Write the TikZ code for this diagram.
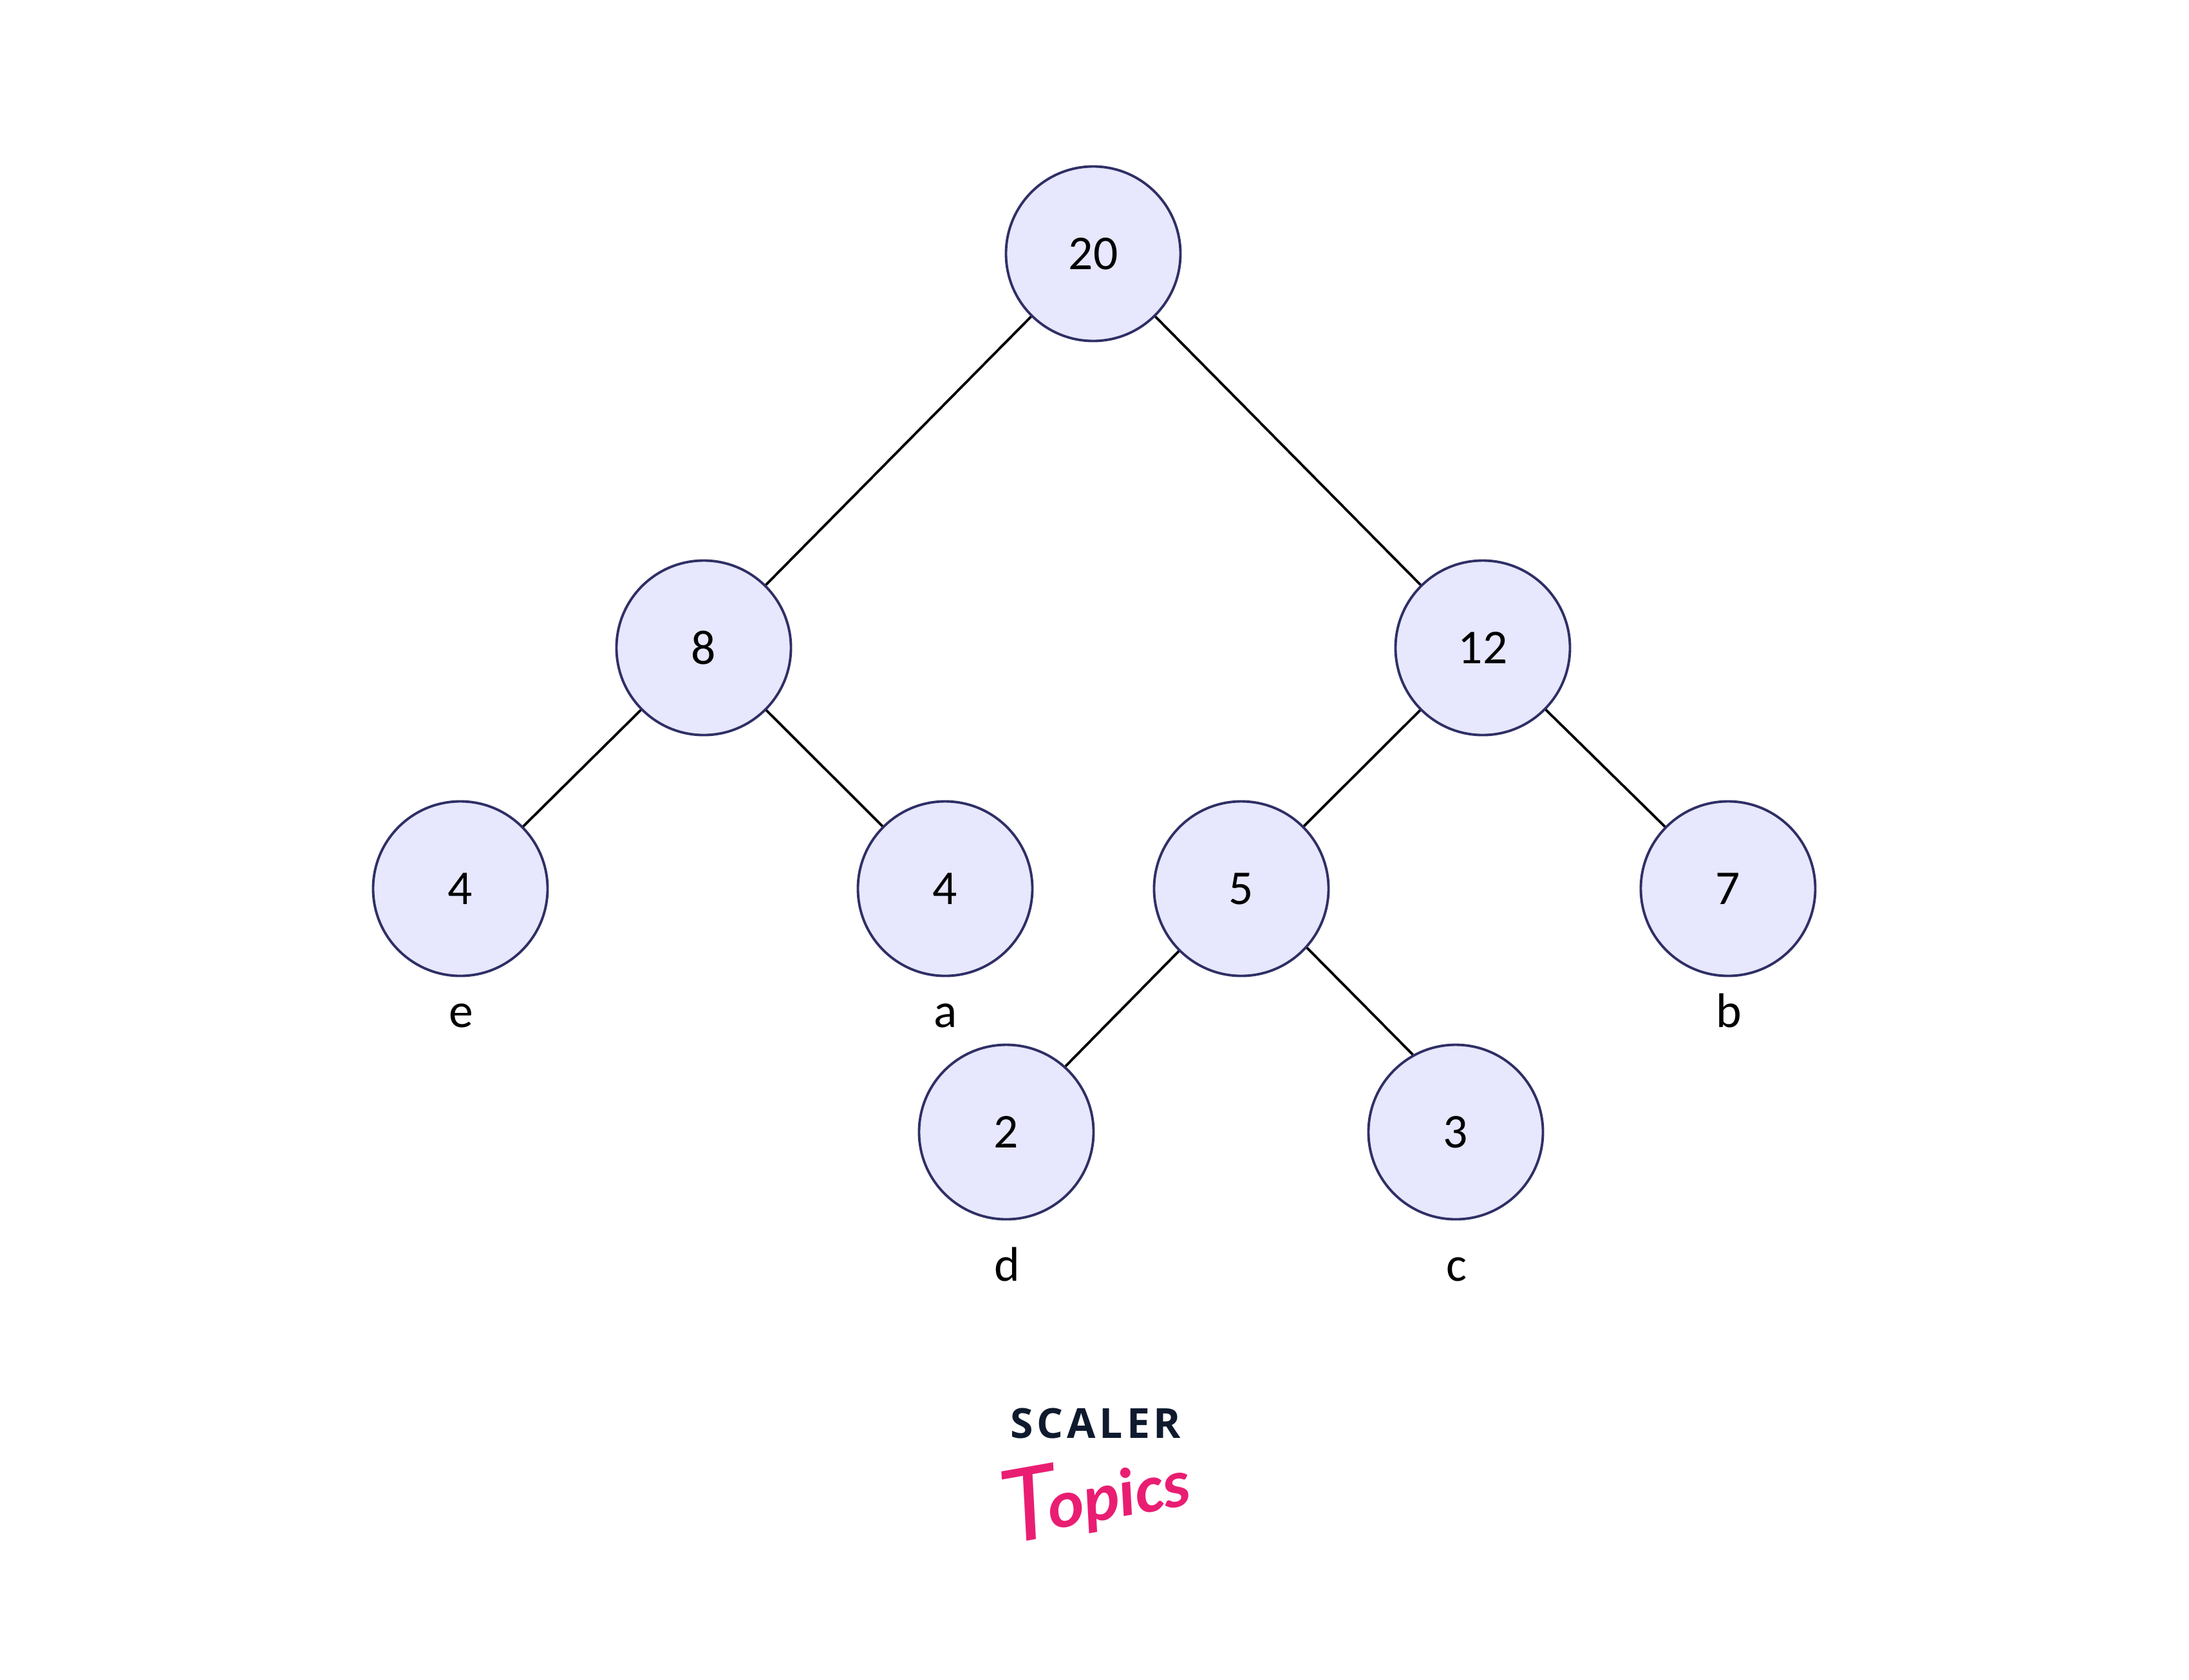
\documentclass[tikz,border=0pt]{standalone}
\usepackage{fontspec}
\setmainfont{Carlito}
\newfontfamily\logofont[LetterSpace=9]{Open Sans}
\usepackage{xcolor}
\usepackage{tikz}
\definecolor{nodefill}{HTML}{E7E7FD}
\definecolor{nodeline}{HTML}{2F2F66}
\definecolor{logodark}{HTML}{0F1A2E}
\definecolor{logopink}{HTML}{E91E72}

\begin{document}
\begin{tikzpicture}[
	font=\fontsize{21.5}{26}\selectfont
]
\tikzset{
    mycircle/.style = {circle, draw=nodeline, fill=nodefill, line width=1.1pt, minimum size=2.71cm, inner sep=0pt},
    myedge/.style = {draw=black, line width=1.1pt},
    myleaf/.style = {inner sep=0pt, anchor=base}
}
\useasboundingbox (0,0) rectangle (34.00,-26.08);
\node[mycircle] (n20) at (16.98,-3.94) {20};
\node[mycircle] (n8) at (10.93,-10.06) {8};
\node[mycircle] (n12) at (23.03,-10.06) {12};
\node[mycircle] (n4e) at (7.15,-13.80) {4};
\node[mycircle] (n4a) at (14.68,-13.80) {4};
\node[mycircle] (n5) at (19.28,-13.80) {5};
\node[mycircle] (n7) at (26.84,-13.80) {7};
\node[mycircle] (n2) at (15.63,-17.58) {2};
\node[mycircle] (n3) at (22.61,-17.58) {3};
\node[myleaf] (le) at (7.16,-15.95) {e};
\node[myleaf] (la) at (14.69,-15.95) {a};
\node[myleaf] (lb) at (26.85,-15.95) {b};
\node[myleaf] (ld) at (15.64,-19.89) {d};
\node[myleaf] (lc) at (22.62,-19.89) {c};
\draw[myedge] (n20) -- (n8);
\draw[myedge] (n20) -- (n12);
\draw[myedge] (n8) -- (n4e);
\draw[myedge] (n8) -- (n4a);
\draw[myedge] (n12) -- (n5);
\draw[myedge] (n12) -- (n7);
\draw[myedge] (n5.-135) -- (n2.48);
\draw[myedge] (n5.-42) -- (n3.119);
\node[text=logodark, font=\logofont\bfseries\fontsize{18.3}{20}\selectfont, inner sep=0pt] (scaler) at (17.02,-22.10) {SCALER};
\node[text=logopink, font=\bfseries\itshape\fontsize{30}{36}\selectfont, inner sep=0pt, rotate=10] (topics) at (17.00,-23.20) {\raisebox{-3pt}{\mdseries\fontsize{50}{54}\selectfont T}\kern-4pt opics};
\end{tikzpicture}
\end{document}
